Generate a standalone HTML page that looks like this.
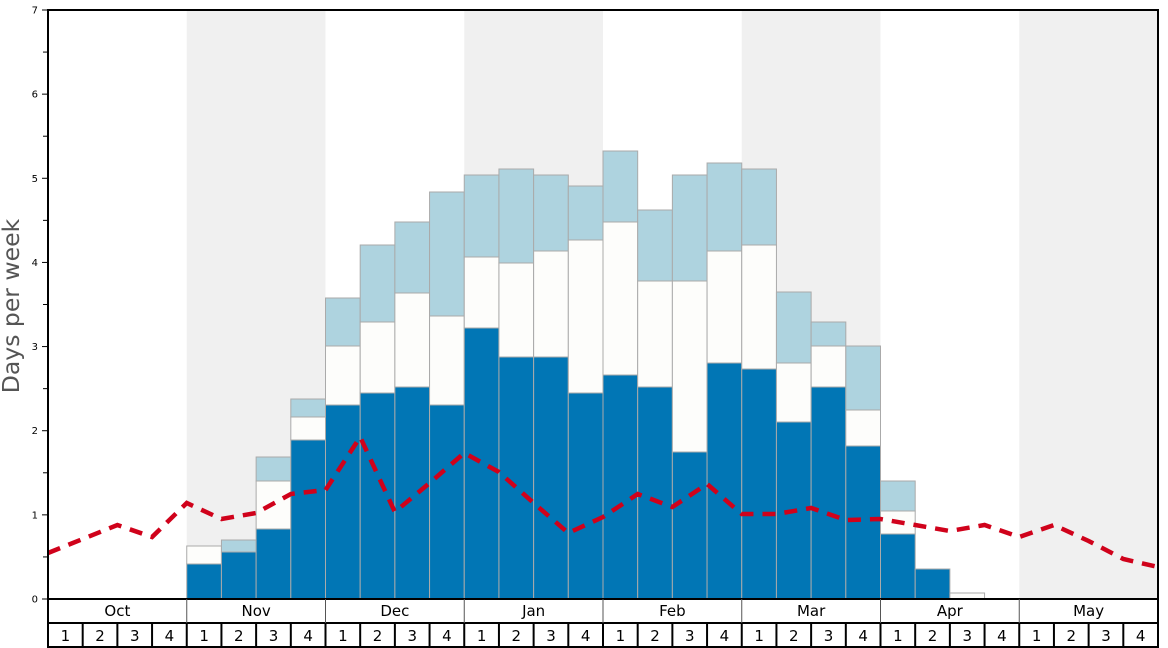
<!DOCTYPE html>
<html><head><meta charset="utf-8"><style>
html,body{margin:0;padding:0;background:#fff;}
svg{display:block;font-family:"DejaVu Sans","Liberation Sans",sans-serif;}
</style></head><body>
<svg id="s" width="1168" height="648" xmlns="http://www.w3.org/2000/svg"></svg>
<script>
const s=document.getElementById('s');
const W=(1158-48)/32, X=i=>48+i*W, Y=v=>599-v*589/7;
let h='';
[1,3,5,7].forEach(m=>{h+=`<rect x="${X(m*4)}" y="10" width="${4*W}" height="589" fill="#f0f0f0"/>`;});
const bars=[[4,564,546,546],[5,552,552,540],[6,529,481,457],[7,440,417,399],[8,405,346,298],[9,393,322,245],[10,387,293,222],[11,405,316,192],[12,328,257,175],[13,357,263,169],[14,357,251,175],[15,393,240,186],[16,375,222,151],[17,387,281,210],[18,452,281,175],[19,363,251,163],[20,369,245,169],[21,422,363,292],[22,387,346,322],[23,446,410,346],[24,534,511,481],[25,569,569,569],[26,599,593,593]];
bars.forEach(([i,d,w,l])=>{const x=X(i);
 if(l<w)h+=`<rect x="${x}" y="${l}" width="${W}" height="${w-l}" fill="#aed3df" stroke="#aaa" stroke-width="1"/>`;
 if(w<d)h+=`<rect x="${x}" y="${w}" width="${W}" height="${d-w}" fill="#fdfdfb" stroke="#aaa" stroke-width="1"/>`;
 if(d<599)h+=`<rect x="${x}" y="${d}" width="${W}" height="${599-d}" fill="#0176b5" stroke="#aaa" stroke-width="1"/>`;
});
const ly=[553,539,525,537,503,519,513,494,490,437,512,483,453,472,503,533,517,494,507,484,514,514,508,520,519,525,531,525,537,525,541,559,567];
h+=`<polyline points="${ly.map((y,i)=>X(i)+','+y).join(' ')}" fill="none" stroke="#d0021b" stroke-width="4.5" stroke-dasharray="13,9"/>`;
h+=`<rect x="48" y="10" width="1110" height="589" fill="none" stroke="#000" stroke-width="2"/>`;
for(let k=0;k<=14;k++){const y=Y(k/2);h+=`<line x1="${k%2?43:42}" x2="48" y1="${y}" y2="${y}" stroke="#000" stroke-width="1"/>`;
 if(k%2==0)h+=`<text x="38" y="${y+3.5}" font-size="10" text-anchor="end">${k/2}</text>`;}
h+=`<text transform="translate(19,306) rotate(-90)" font-size="23.5" fill="#555" text-anchor="middle">Days per week</text>`;
const months=['Oct','Nov','Dec','Jan','Feb','Mar','Apr','May'];
h+=`<line x1="48" x2="1158" y1="623" y2="623" stroke="#000" stroke-width="2"/>`;
h+=`<line x1="48" x2="1158" y1="647" y2="647" stroke="#000" stroke-width="2"/>`;
h+=`<line x1="48" x2="48" y1="599" y2="648" stroke="#000" stroke-width="2"/>`;
h+=`<line x1="1158" x2="1158" y1="599" y2="648" stroke="#000" stroke-width="2"/>`;
months.forEach((m,j)=>{h+=`<text x="${X(j*4+2)}" y="616" font-size="15" text-anchor="middle">${m}</text>`;
 if(j>0)h+=`<line x1="${X(j*4)}" x2="${X(j*4)}" y1="599" y2="623" stroke="#555" stroke-width="1"/>`;});
for(let i=0;i<32;i++){h+=`<text x="${X(i+0.5)}" y="641" font-size="15" text-anchor="middle">${i%4+1}</text>`;
 if(i>0)h+=`<line x1="${X(i)}" x2="${X(i)}" y1="623" y2="647" stroke="#000" stroke-width="2"/>`;}
s.innerHTML=h;
</script>
</body></html>
